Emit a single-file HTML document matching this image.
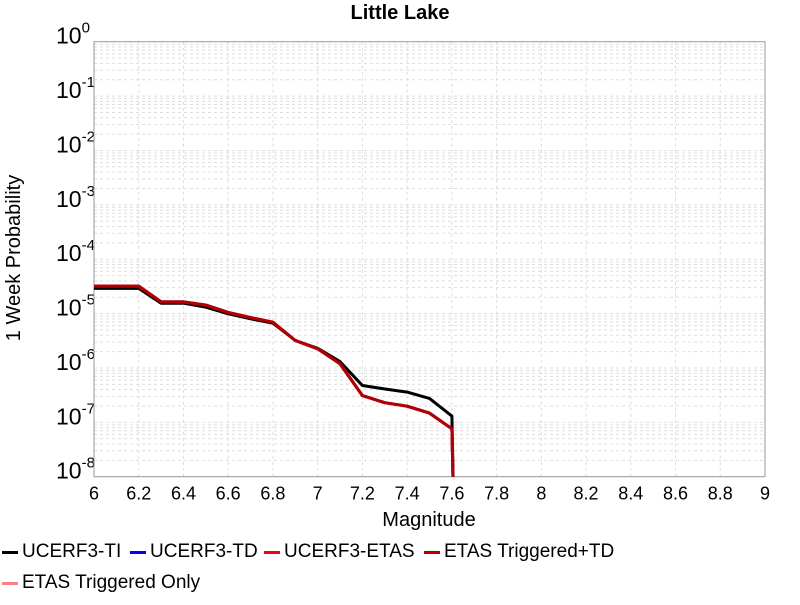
<!DOCTYPE html>
<html><head><meta charset="utf-8"><style>
body{margin:0;background:#fff;font-family:"Liberation Sans",sans-serif}
svg text{font-family:"Liberation Sans",sans-serif}
</style></head><body>
<svg id="chart" width="800" height="600">
<rect width="800" height="600" fill="#fff"/>
<g id="grid"></g>
<g id="axes"></g>
<g id="series"></g>
<text x="400" y="19" text-anchor="middle" font-size="20" font-weight="bold">Little Lake</text>
<text x="429" y="526" text-anchor="middle" font-size="20">Magnitude</text>
<text transform="translate(20,258) rotate(-90)" text-anchor="middle" font-size="20">1 Week Probability</text>
<g font-size="19">
<g><rect x="2" y="551" width="16" height="3" fill="#000"/><text x="22" y="557">UCERF3-TI</text></g>
<g><rect x="130" y="551" width="16" height="3" fill="#0000ff"/><text x="150" y="557">UCERF3-TD</text></g>
<g><rect x="264" y="551" width="16" height="3" fill="#ff0000"/><text x="284" y="557">UCERF3-ETAS</text></g>
<g><rect x="424" y="551" width="16" height="3" fill="#b00000"/><text x="444" y="557">ETAS Triggered+TD</text></g>
<g><rect x="2" y="582" width="16" height="3" fill="#ff8080"/><text x="22" y="588">ETAS Triggered Only</text></g>
</g>
</svg>
<script>
const mags = [6.0,6.1,6.2,6.3,6.4,6.5,6.6,6.7,6.8,6.9,7.0,7.1,7.2,7.3,7.4,7.5,7.6,7.61];
const probTI = [2.9e-5,2.9e-5,2.9e-5,1.55e-5,1.55e-5,1.31e-5,9.9e-6,8.0e-6,6.65e-6,3.2e-6,2.3e-6,1.31e-6,4.75e-7,4.1e-7,3.6e-7,2.75e-7,1.3e-7,1e-12];
const probTD = [3.2e-5,3.2e-5,3.2e-5,1.64e-5,1.64e-5,1.43e-5,1.05e-5,8.45e-6,6.95e-6,3.2e-6,2.25e-6,1.19e-6,3.1e-7,2.3e-7,1.98e-7,1.48e-7,7.6e-8,1e-12];
const probETAS = [3.2e-5,3.2e-5,3.2e-5,1.64e-5,1.64e-5,1.43e-5,1.05e-5,8.45e-6,6.95e-6,3.2e-6,2.25e-6,1.19e-6,3.1e-7,2.3e-7,1.98e-7,1.48e-7,7.6e-8,1e-12];
const probTrigTD = [3.2e-5,3.2e-5,3.2e-5,1.64e-5,1.64e-5,1.43e-5,1.05e-5,8.45e-6,6.95e-6,3.2e-6,2.25e-6,1.19e-6,3.1e-7,2.3e-7,1.98e-7,1.48e-7,7.6e-8,1e-12];
const xTicks = ["6","6.2","6.4","6.6","6.8","7","7.2","7.4","7.6","7.8","8","8.2","8.4","8.6","8.8","9"];
const yExps = [0,-1,-2,-3,-4,-5,-6,-7,-8];

const L=94,R=765,T=41.7,B=476.7;
const xS=v=>L+(v-6)/3*(R-L);
const yS=v=>T+(-Math.log10(v))/8*(B-T);
const NS="http://www.w3.org/2000/svg";
function mk(tag,attrs,parent){const e=document.createElementNS(NS,tag);for(const k in attrs)e.setAttribute(k,attrs[k]);parent.appendChild(e);return e;}
const grid=document.getElementById('grid'),axes=document.getElementById('axes'),ser=document.getElementById('series');
for(let d=0;d<8;d++){for(let m=1;m<10;m++){const v=m*Math.pow(10,-d-1);const y=yS(v);
const l=mk('line',{x1:L,x2:R,y1:y,y2:y,stroke:'#dddddd','stroke-width':1,'stroke-dasharray':'3,3'},grid);

}}
xTicks.forEach(t=>{const x=xS(parseFloat(t));
const l=mk('line',{x1:x,x2:x,y1:T,y2:B,stroke:'#dddddd','stroke-width':1,'stroke-dasharray':'3,3'},grid);


const tx=mk('text',{x:x,y:B+23,'text-anchor':'middle','font-size':18},axes);tx.textContent=t;

});
yExps.forEach(e=>{const y=yS(Math.pow(10,e));
const tx=mk('text',{x:56,y:y+2,'font-size':23},axes);


tx.textContent='10';
const s=mk('tspan',{dy:-11,'font-size':15},tx);s.textContent=String(e);});
const fr=mk('rect',{x:L,y:T,width:R-L,height:B-T,fill:'none',stroke:'#999','stroke-width':1},axes);


const cp=mk('clipPath',{id:'clip'},document.getElementById('chart'));
mk('rect',{x:L,y:T,width:R-L,height:B-T},cp);
ser.setAttribute('clip-path','url(#clip)');
function line(vals,color,name){const d=mags.map((m,i)=>(i?'L':'M')+xS(m).toFixed(1)+','+Math.min(yS(vals[i]),B+50).toFixed(1)).join('');
const p=mk('path',{d:d,fill:'none',stroke:color,'stroke-width':3,'stroke-linejoin':'round'},ser);

}
line(probTI,'#000000','series-ucerf3-ti');
line(probTD,'#0000ff','series-ucerf3-td');
line(probETAS,'#ff0000','series-ucerf3-etas');
line(probTrigTD,'#b00000','series-etas-triggered-td');
</script>
</body></html>
